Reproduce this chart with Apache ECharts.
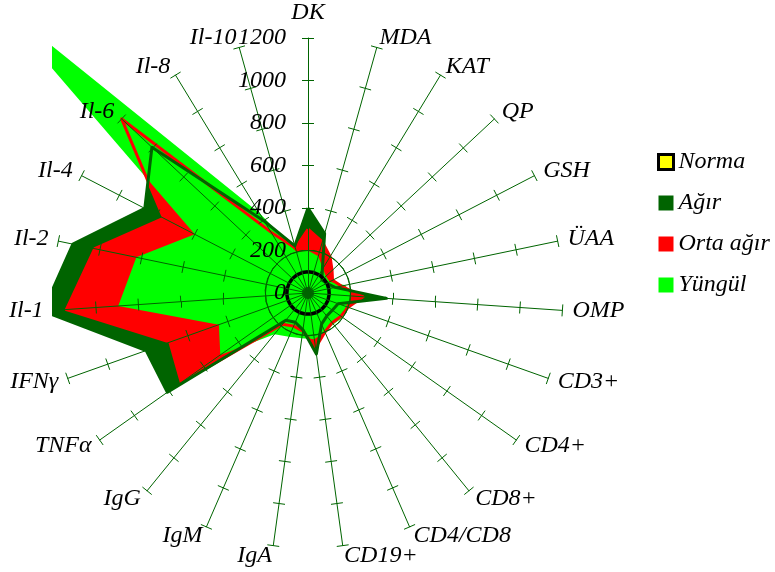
<!DOCTYPE html>
<html><head><meta charset="utf-8">
<script src="https://cdn.jsdelivr.net/npm/echarts@6/dist/echarts.min.js"></script>
<style>html,body{margin:0;padding:0;background:#fff}#c{width:775px;height:572px}</style>
</head><body><div id="c"></div>
<script>
const categories = ['DK','MDA','KAT','QP','GSH','ÜAA','OMP','CD3+','CD4+','CD8+','CD4/CD8','CD19+','IgA','IgM','IgG','TNFα','IFNγ','Il-1','Il-2','Il-4','Il-6','Il-8','Il-10'];
const normaValues  = [100,100,100,100,100,100,100,100,100,100,100,100,100,100,100,100,100,100,100,100,100,100,100];
const agirValues   = [400,290,130,90,100,130,370,150,140,140,160,290,175,150,165,810,808,1250,1130,865,1005,395,230];
const ortaValues   = [300,250,200,155,130,160,260,200,190,180,200,260,180,170,190,730,690,1140,1025,765,1200,335,220];
const yungulValues = [200,180,135,115,115,180,205,190,200,190,200,220,215,225,250,505,445,895,825,600,2050,440,200];
const tickValues   = [0,200,400,600,800,1000,1200];
const seriesNames  = ['Norma','Ağır','Orta ağır','Yüngül'];

const G = '#006400';
const FONT = '"Liberation Serif","Times New Roman",serif';
const FS = 24;
const n = categories.length;
// ECharts lays indicators counter-clockwise; reorder so they appear clockwise
const order = [0];
for (let i = n - 1; i >= 1; i--) order.push(i);
const reorder = arr => order.map(i => arr[i]);

const axMin = tickValues[0], axMax = tickValues[tickValues.length - 1];
function indicators(withLabel) {
  return order.map((i, k) => {
    const o = { name: categories[i], min: axMin, max: axMax };
    if (withLabel && k === 0) { o.axisLabel = { show: true }; o.nameGap = 13; }
    return o;
  });
}
const base = { center: [308, 293], radius: 255, startAngle: 90, shape: 'circle', splitNumber: tickValues.length - 1 };
const splitColors = tickValues.map((v, i) => i === 1 ? G : 'rgba(0,0,0,0)');

const chart = echarts.init(document.getElementById('c'), null, { renderer: 'canvas' });
chart.setOption({
  animation: false,
  backgroundColor: '#fff',
  legend: {
    orient: 'vertical', left: 652, top: 145, itemWidth: 15, itemHeight: 15, itemGap: 17,
    icon: 'rect', z: 6,
    textStyle: { color: '#000', fontFamily: FONT, fontStyle: 'italic', fontSize: FS },
    data: [
      { name: seriesNames[0], itemStyle: { color: '#ffff00', borderColor: '#000', borderWidth: 3 } },
      { name: seriesNames[1] }, { name: seriesNames[2] }, { name: seriesNames[3] }
    ]
  },
  graphic: [{ type: 'rect', z: 4, silent: true, shape: { x: 0, y: 0, width: 52, height: 572 }, style: { fill: '#fff' } }],
  radar: [
    Object.assign({}, base, {
      z: 5,
      indicator: indicators(true),
      nameGap: 10,
      axisName: { color: '#000', fontFamily: FONT, fontStyle: 'italic', fontSize: FS },
      axisLine: { lineStyle: { color: G, width: 1 } },
      axisTick: { show: true, length: 6, lineStyle: { color: G, width: 1 } },
      axisLabel: { show: false, color: '#000', fontFamily: FONT, fontStyle: 'italic', fontSize: FS, margin: 22,
                   formatter: v => String(v) },
      splitLine: { show: true, lineStyle: { color: splitColors, width: 1 } },
      splitArea: { show: false }
    }),
    Object.assign({}, base, {
      z: 5,
      indicator: indicators(false),
      axisName: { show: false },
      axisLine: { show: false },
      axisTick: { show: true, length: -6, lineStyle: { color: G, width: 1 } },
      axisLabel: { show: false },
      splitLine: { show: false },
      splitArea: { show: false }
    })
  ],
  series: [
    { type: 'radar', radarIndex: 0, z: 1, symbol: 'none', silent: true,
      itemStyle: { color: G }, lineStyle: { width: 0 }, areaStyle: { color: G, opacity: 1 },
      data: [{ name: seriesNames[1], value: reorder(agirValues) }] },
    { type: 'radar', radarIndex: 0, z: 1, symbol: 'none', silent: true,
      itemStyle: { color: '#ff0000' }, lineStyle: { width: 0 }, areaStyle: { color: '#ff0000', opacity: 1 },
      data: [{ name: seriesNames[2], value: reorder(ortaValues) }] },
    { type: 'radar', radarIndex: 0, z: 1, symbol: 'none', silent: true,
      itemStyle: { color: '#00ff00' }, lineStyle: { width: 0 }, areaStyle: { color: '#00ff00', opacity: 1 },
      data: [{ name: seriesNames[3], value: reorder(yungulValues) }] },
    { type: 'radar', radarIndex: 0, z: 2, symbol: 'none', silent: true,
      lineStyle: { color: '#ff0000', width: 3 },
      data: [{ name: seriesNames[2] + ' ', value: reorder(ortaValues) }] },
    { type: 'radar', radarIndex: 0, z: 2, symbol: 'none', silent: true,
      lineStyle: { color: G, width: 3 },
      data: [{ name: seriesNames[1] + ' ', value: reorder(agirValues) }] },
    { type: 'radar', radarIndex: 0, z: 3, symbol: 'none', silent: true,
      itemStyle: { color: '#ffff00', borderColor: '#000' }, lineStyle: { color: '#000', width: 3.5 },
      data: [{ name: seriesNames[0], value: reorder(normaValues) }] }
  ]
});
</script></body></html>
